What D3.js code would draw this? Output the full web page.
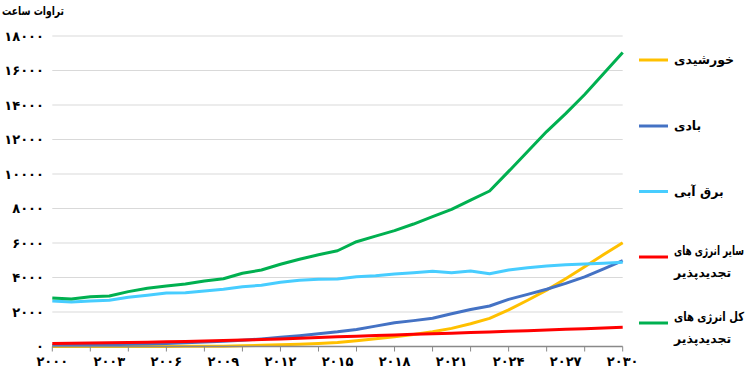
<!DOCTYPE html>
<html>
<head>
<meta charset="utf-8">
<script src="https://cdn.jsdelivr.net/npm/d3@7"></script>
<style>
  body { margin: 0; background: #fff; }
  svg { display: block; font-family: "DejaVu Sans", sans-serif; }
</style>
</head>
<body>
<svg id="chart" width="750" height="375"></svg>
<script>
// years 2000..2030
var years = d3.range(2000, 2031);

var solar = [0, 0, 0, 0, 0, 0, 5, 8, 12, 20, 40, 70, 100, 130, 170, 230, 330, 450, 570, 700, 850,
             1050, 1320, 1630, 2120, 2680, 3270, 3930, 4620, 5330, 6020];
var wind = [60, 70, 85, 100, 125, 150, 180, 215, 255, 300, 360, 440, 530, 630, 740, 850, 990, 1180, 1380, 1500, 1640,
            1900, 2150, 2350, 2730, 3020, 3320, 3660, 4040, 4500, 4980];
var hydro = [2640, 2580, 2640, 2680, 2850, 2970, 3100, 3120, 3215, 3315, 3470, 3550, 3720, 3835, 3895, 3910, 4050, 4105, 4200, 4280, 4360,
             4280, 4375, 4220, 4435, 4570, 4665, 4740, 4780, 4825, 4880];
var other = [180, 190, 200, 215, 230, 250, 270, 295, 320, 345, 370, 405, 440, 480, 520, 560, 600, 635, 670, 705, 740,
             775, 810, 845, 880, 920, 955, 995, 1030, 1070, 1110];
var total = [2813, 2755, 2880, 2930, 3180, 3375, 3510, 3620, 3800, 3930, 4245, 4435, 4765, 5055, 5320, 5550, 6075, 6400, 6715, 7100, 7525,
             7950, 8490, 9015, 10150, 11300, 12460, 13500, 14610, 15830, 17050];

var seriesNames = ["خورشیدی", "بادی", "برق آبی", "سایر انرژی های|تجدیدپذیر", "کل انرژی های|تجدیدپذیر"];
var seriesColors = ["#FFC000", "#4472C4", "#47CDFF", "#FF0000", "#00B050"];
var seriesValues = [solar, wind, hydro, other, total];
var yTicks = d3.range(0, 18001, 2000);
var xLabelYears = d3.range(2000, 2031, 3);
var xTickYears = d3.range(2000, 2031, 2);
var yTitle = "تراوات ساعت";

var faDigits = "۰۱۲۳۴۵۶۷۸۹";
function fa(n) {
    return String(n).replace(/\d/g, function(c) { return faDigits[c]; });
}

var svg = d3.select("#chart");

var x = d3.scaleLinear().domain([2000, 2030]).range([52.3, 622.7]);
var y = d3.scaleLinear().domain([0, 18000]).range([346.5, 36]);

// gridlines
svg.append("g")
    .selectAll("line")
    .data(yTicks.filter(function(d) { return d > 0; }))
    .join("line")
    .attr("x1", x(2000)).attr("x2", x(2030))
    .attr("y1", function(d) { return y(d); })
    .attr("y2", function(d) { return y(d); })
    .attr("stroke", "#d9d9d9").attr("stroke-width", 1);

// y labels
svg.append("g")
    .selectAll("text")
    .data(yTicks)
    .join("text")
    .attr("x", 44)
    .attr("y", function(d) { return y(d); })
    .attr("dy", "0.35em")
    .attr("text-anchor", "end")
    .attr("font-size", 13)
    .attr("font-weight", "bold")
    .attr("fill", "#000")
    .text(function(d) { return fa(d); });

svg.append("text")
    .attr("x", 2).attr("y", 15)
    .attr("font-size", 12)
    .attr("font-weight", "bold")
    .attr("textLength", 62)
    .attr("lengthAdjust", "spacingAndGlyphs")
    .text(yTitle);

// lines
var line = d3.line()
    .x(function(d, i) { return x(years[i]); })
    .y(function(d) { return y(d); });

svg.append("g")
    .selectAll("path")
    .data(seriesValues)
    .join("path")
    .attr("d", line)
    .attr("fill", "none")
    .attr("stroke", function(d, i) { return seriesColors[i]; })
    .attr("stroke-width", 3)
    .attr("stroke-linejoin", "round");

// x axis
var xAxis = svg.append("g");
xAxis.append("line")
    .attr("x1", x(2000)).attr("x2", x(2030))
    .attr("y1", y(0)).attr("y2", y(0))
    .attr("stroke", "#898989").attr("stroke-width", 1.5);
xAxis.selectAll("line.tick")
    .data(xTickYears)
    .join("line")
    .attr("class", "tick")
    .attr("x1", function(d) { return x(d); })
    .attr("x2", function(d) { return x(d); })
    .attr("y1", y(0)).attr("y2", y(0) + 5)
    .attr("stroke", "#898989").attr("stroke-width", 1);
xAxis.selectAll("text")
    .data(xLabelYears)
    .join("text")
    .attr("x", function(d) { return x(d); })
    .attr("y", 366)
    .attr("text-anchor", "middle")
    .attr("font-size", 13)
    .attr("font-weight", "bold")
    .text(function(d) { return fa(d); });

// legend
var legendY = [60, 126, 191.5, 257, 323];
var legend = svg.append("g")
    .selectAll("g")
    .data(seriesNames)
    .join("g")
    .attr("transform", function(d, i) { return "translate(639," + legendY[i] + ")"; });
legend.append("line")
    .attr("x1", 0).attr("x2", 29)
    .attr("stroke", function(d, i) { return seriesColors[i]; })
    .attr("stroke-width", 3);
legend.each(function(d) {
    var parts = d.split("|");
    var g = d3.select(this);
    parts.forEach(function(p, j) {
        var t = g.append("text")
            .attr("x", 35)
            .attr("y", parts.length > 1 ? -6 + j * 21.5 : 0)
            .attr("dy", "0.35em")
            .attr("font-size", 12.5)
            .attr("font-weight", "bold")
            .text(p);
        // squeeze long labels so they stay inside the picture
        var w = t.node().getComputedTextLength();
        if (w > 70) {
            t.attr("textLength", 70).attr("lengthAdjust", "spacingAndGlyphs");
        }
    });
});
</script>
</body>
</html>
